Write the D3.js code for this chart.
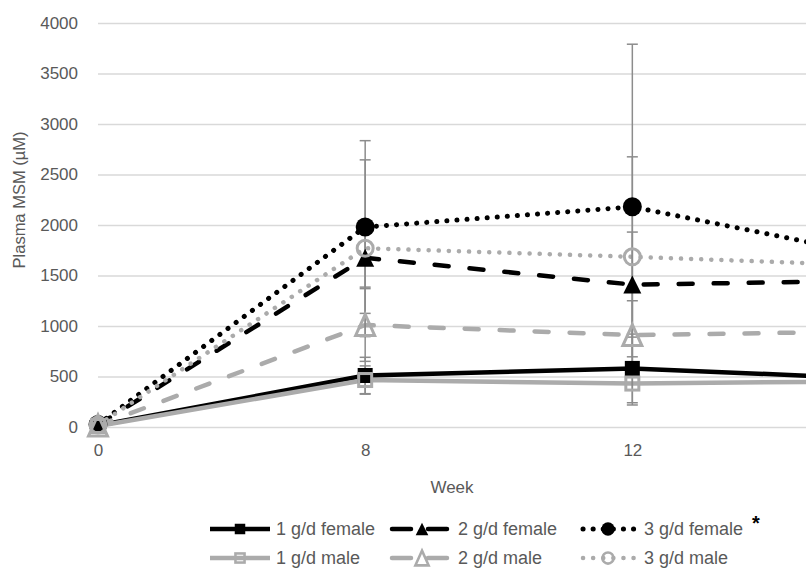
<!DOCTYPE html>
<html>
<head>
<meta charset="utf-8">
<script src="https://cdn.jsdelivr.net/npm/d3@7/dist/d3.min.js"></script>
<style>
  body { margin: 0; background: #fff; }
  text { font-family: "Liberation Sans", Arial, sans-serif; fill: #595959; }
</style>
</head>
<body>
<div id="chart"></div>
<script>
// data (week 16 is mostly off the right edge)
var weeks = ["0", "8", "12", "16"];
var seriesNames = ["1 g/d female", "2 g/d female", "3 g/d female",
                   "1 g/d male", "2 g/d male", "3 g/d male"];

var female1 = [15, 510, 580, 470];
var female2 = [20, 1675, 1410, 1450];
var female3 = [25, 1980, 2180, 1650];
var male1 = [10, 465, 430, 455];
var male2 = [15, 1010, 910, 950];
var male3 = [20, 1770, 1685, 1590];

var female1Err = [10, 180, 340, 200];
var female2Err = [10, 290, 520, 400];
var female3Err = [15, 855, 1610, 900];
var male1Err = [5, 140, 212, 150];
var male2Err = [10, 360, 340, 300];
var male3Err = [10, 875, 990, 800];

var yTicks = [0, 500, 1000, 1500, 2000, 2500, 3000, 3500, 4000];

var svgWidth = 806;
var svgHeight = 570;

var svg = d3.select("#chart")
  .append("svg")
  .attr("width", svgWidth)
  .attr("height", svgHeight);

var black = "#000000";
var gray = "#ababab";

// one style per series, same order as seriesNames
var styles = [
  {color: black, dash: null, cap: "butt", width: 4.5, marker: "square", open: false},
  {color: black, dash: "14,21", cap: "round", width: 4.5, marker: "triangle", open: false},
  {color: black, dash: "0.1,10", cap: "round", width: 5, marker: "circle", open: false},
  {color: gray, dash: null, cap: "butt", width: 4.5, marker: "square", open: true},
  {color: gray, dash: "14,21", cap: "round", width: 4.5, marker: "triangle", open: true},
  {color: gray, dash: "0.1,10", cap: "round", width: 4.5, marker: "circle", open: true}
];

var values = [female1, female2, female3, male1, male2, male3];
var errors = [female1Err, female2Err, female3Err, male1Err, male2Err, male3Err];

var series = seriesNames.map(function(name, i) {
  return {
    name: name,
    style: styles[i],
    points: weeks.map(function(w, j) {
      return {week: w, value: values[i][j], err: errors[i][j]};
    })
  };
});

var x = d3.scalePoint()
  .domain(weeks)
  .range([98, 899.5]);

var y = d3.scaleLinear()
  .domain([0, 4000])
  .range([427, 23]);

// gridlines + y labels
svg.append("g")
  .attr("transform", "translate(98,0)")
  .call(d3.axisLeft(y).tickValues(yTicks).tickFormat(d3.format("d")).tickSize(-720).tickPadding(20))
  .call(function(g) {
    g.select(".domain").remove();
    g.selectAll(".tick line").attr("stroke", "#d9d9d9").attr("stroke-width", 1.3);
    g.selectAll(".tick text")
      .attr("fill", "#595959")
      .style("font-size", "17px")
      .style("font-family", "Liberation Sans, Arial, sans-serif");
  });

// x labels (the last week falls outside the picture)
svg.append("g")
  .attr("transform", "translate(0,427)")
  .call(d3.axisBottom(x)
    .tickValues(weeks.filter(function(w) { return x(w) < svgWidth; }))
    .tickSize(0).tickPadding(17))
  .call(function(g) {
    g.select(".domain").remove();
    g.selectAll(".tick text")
      .attr("fill", "#595959")
      .style("font-size", "17px")
      .style("font-family", "Liberation Sans, Arial, sans-serif");
  });

svg.append("text")
  .attr("x", 452)
  .attr("y", 493)
  .attr("text-anchor", "middle")
  .style("font-size", "17px")
  .text("Week");

svg.append("text")
  .attr("transform", "translate(25,200) rotate(-90)")
  .attr("text-anchor", "middle")
  .style("font-size", "16.5px")
  .text("Plasma MSM (µM)");

var line = d3.line()
  .x(function(d) { return x(d.week); })
  .y(function(d) { return y(d.value); });

var plot = svg.append("g");

// lines
plot.selectAll(".series-line")
  .data(series)
  .enter()
  .append("path")
  .attr("class", "series-line")
  .attr("d", function(d) { return line(d.points); })
  .attr("fill", "none")
  .attr("stroke", function(d) { return d.style.color; })
  .attr("stroke-width", function(d) { return d.style.width; })
  .attr("stroke-dasharray", function(d) { return d.style.dash; })
  .attr("stroke-linecap", function(d) { return d.style.cap; })
  .attr("stroke-linejoin", "round");

// error bars
var errColor = "#8c8c8c";
series.forEach(function(s) {
  var eb = plot.append("g");
  s.points.forEach(function(p) {
    var cx = x(p.week);
    var top = y(p.value + p.err);
    var bot = y(p.value - p.err);
    eb.append("line").attr("x1", cx).attr("x2", cx).attr("y1", top).attr("y2", bot)
      .attr("stroke", errColor).attr("stroke-width", 1.5);
    [top, bot].forEach(function(yy) {
      eb.append("line").attr("x1", cx - 5.5).attr("x2", cx + 5.5).attr("y1", yy).attr("y2", yy)
        .attr("stroke", errColor).attr("stroke-width", 1.5);
    });
  });
});

function drawMarker(g, type, open, color, cx, cy, scale) {
  scale = scale || 1;
  var m;
  if (type === "square") {
    var s = (open ? 13 : 15) * scale;
    m = g.append("rect").attr("x", cx - s / 2).attr("y", cy - s / 2).attr("width", s).attr("height", s);
  } else if (type === "triangle") {
    var w = (open ? 19 : 18) * scale, h = (open ? 21 : 18) * scale;
    m = g.append("path").attr("d", "M" + cx + "," + (cy - h / 2) + "L" + (cx + w / 2) + "," + (cy + h / 2) +
      "L" + (cx - w / 2) + "," + (cy + h / 2) + "Z");
  } else {
    m = g.append("circle").attr("cx", cx).attr("cy", cy).attr("r", (open ? 8 : 9.5) * scale);
  }
  if (open) {
    m.attr("fill", "none").attr("stroke", color).attr("stroke-width", 3 * Math.min(1, scale + 0.15));
  } else {
    m.attr("fill", color).attr("stroke", "none");
  }
}

// markers
series.forEach(function(s) {
  var mg = plot.append("g");
  s.points.forEach(function(p) {
    drawMarker(mg, s.style.marker, s.style.open, s.style.color, x(p.week), y(p.value));
  });
});

// legend
var legendX = [210, 392, 578];
var legendY = [529, 558];
var legend = svg.append("g");
series.forEach(function(s, i) {
  var lx = legendX[i % 3];
  var ly = legendY[Math.floor(i / 3)];
  legend.append("line")
    .attr("x1", lx).attr("x2", lx + 60).attr("y1", ly).attr("y2", ly)
    .attr("stroke", s.style.color)
    .attr("stroke-width", s.style.width)
    .attr("stroke-dasharray", s.style.dash === "14,21" ? "19,17" : s.style.dash)
    .attr("stroke-dashoffset", s.style.dash === "14,21" ? 0 : -5)
    .attr("stroke-linecap", s.style.cap);
  drawMarker(legend, s.style.marker, s.style.open, s.style.color, lx + 30, ly, 0.7);
  legend.append("text")
    .attr("x", lx + 66)
    .attr("y", ly + 6)
    .style("font-size", "18px")
    .text(s.name);
});

svg.append("text")
  .attr("x", 752)
  .attr("y", 530)
  .style("font-size", "20px")
  .style("font-weight", "bold")
  .style("fill", "#000")
  .text("*");
</script>
</body>
</html>
